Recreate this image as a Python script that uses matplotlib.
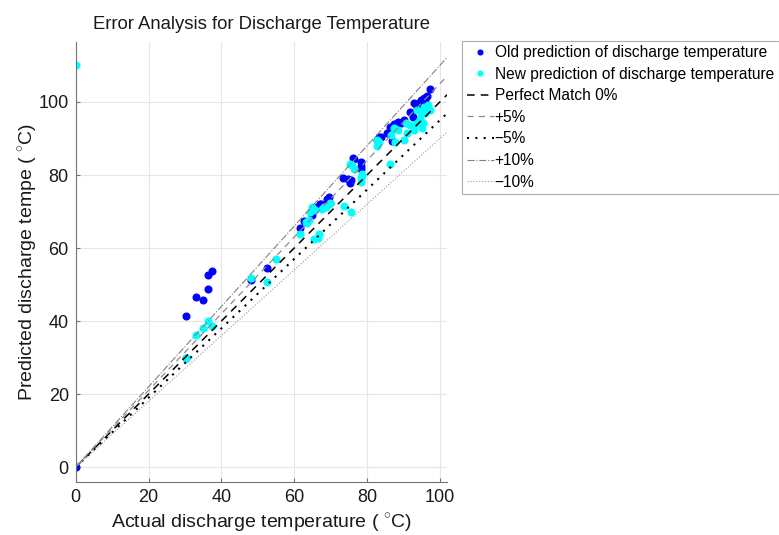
import matplotlib
matplotlib.use("Agg")
import matplotlib.pyplot as plt
import numpy as np

plt.rcParams["font.family"] = ["Liberation Sans", "DejaVu Sans"]
plt.rcParams["mathtext.fontset"] = "custom"
plt.rcParams["mathtext.rm"] = "Liberation Sans"

# old prediction (blue)
old_actual = [0, 30.3, 33.1, 34.9, 36.3, 36.3, 37.5, 30.2, 48.2, 52.5,
              61.5, 62.8, 65.0, 66.3, 67.4, 69.0, 69.6, 67.0, 69.9,
              73.4, 74.9, 75.4, 75.6, 76.2, 76.5, 78.4, 78.4, 78.3,
              82.6, 83.4, 83.7, 85.5, 86.2, 86.9, 87.5, 88.4, 89.4, 90.1,
              91.9, 92.7, 92.8, 93.6, 94.2, 94.9, 95.6, 96.0, 96.5, 97.2]
old_pred = [0, 41.4, 46.7, 45.8, 48.7, 52.7, 53.8, 30.0, 51.3, 54.5,
            65.4, 67.5, 69.0, 71.3, 72.1, 73.4, 73.9, 72.0, 72.2,
            79.1, 79.0, 77.9, 78.6, 84.6, 84.3, 83.5, 82.6, 81.6,
            89.6, 90.5, 90.5, 91.6, 93.2, 89.3, 94.1, 94.6, 94.3, 95.1,
            97.3, 95.8, 99.6, 98.7, 99.8, 100.5, 101.0, 100.4, 101.6, 103.6]

# new prediction (cyan)
new_actual = [0, 30.2, 33.0, 35.0, 36.3, 37.5, 48.2, 52.6, 54.9,
              61.6, 63.3, 63.6, 64.0, 64.4, 64.9, 65.8, 67.6, 68.1, 68.7, 69.7,
              65.3, 66.4, 66.9, 73.6, 75.6,
              75.4, 75.9, 76.5, 78.5, 78.6, 78.4, 78.4,
              82.6, 82.8, 83.4, 86.4, 86.6, 87.3, 87.8, 88.4, 90.1, 90.8, 91.0,
              91.7, 92.8, 93.8, 93.8, 94.2, 94.5, 94.7, 95.1, 95.4, 95.6, 96.0,
              96.7, 97.2]
new_pred = [110, 30.0, 36.2, 38.0, 39.9, 38.6, 51.7, 50.8, 57.0,
            63.8, 67.2, 66.8, 67.7, 70.0, 71.3, 70.4, 70.6, 71.3, 71.3, 72.4,
            62.4, 62.7, 63.8, 71.4, 70.0,
            83.0, 82.8, 81.6, 80.4, 79.8, 79.1, 78.2,
            88.0, 89.5, 89.0, 83.0, 91.0, 92.8, 89.1, 92.3, 89.6, 94.2, 91.4,
            93.7, 92.3, 97.8, 94.2, 94.6, 95.3, 96.9, 92.8, 94.2, 98.7, 96.9,
            99.2, 97.8]

line_x = np.array([0, 102])

fig = plt.figure(figsize=(7.79, 5.35), dpi=100)
ax = fig.add_axes([0.0972, 0.0996, 0.4768, 0.8224])

ax.plot(old_actual, old_pred, "o", color="#0000ff", markersize=4.8, lw=0,
        label="Old prediction of discharge temperature")
ax.plot(new_actual, new_pred, "o", color="#00ffff", markersize=4.8, lw=0,
        label="New prediction of discharge temperature")
ax.plot(line_x, line_x, "--", color="black", lw=1.1, dashes=(5, 4),
        label="Perfect Match 0%")
ax.plot(line_x, 1.05 * line_x, "--", color="0.55", lw=0.9, dashes=(5, 4),
        label="+5%")
ax.plot(line_x, 0.95 * line_x, ":", color="black", lw=1.5, dashes=(1, 3),
        label="\u22125%")
ax.plot(line_x, 1.10 * line_x, "-.", color="0.5", lw=0.8,
        label="+10%")
ax.plot(line_x, 0.90 * line_x, ":", color="0.6", lw=0.8,
        label="\u221210%")

ax.set_xlim(0, 102)
ax.set_ylim(-4, 116.5)
ax.set_xticks([0, 20, 40, 60, 80, 100])
ax.set_yticks([0, 20, 40, 60, 80, 100])
ax.grid(True, color="0.9", lw=0.8)
ax.set_axisbelow(True)
for s in ["top", "right"]:
    ax.spines[s].set_visible(False)
for s in ["left", "bottom"]:
    ax.spines[s].set_color("0.45")
ax.tick_params(direction="in", length=3, color="0.45", labelsize=13,
               labelcolor="0.1", pad=5)

ax.set_title("Error Analysis for Discharge Temperature", fontsize=13.3,
             color="0.1", pad=9)
ax.set_xlabel("Actual discharge temperature ( $^{\\circ}$C)", fontsize=14,
              color="0.1", labelpad=4)
ax.set_ylabel("Predicted discharge tempe ( $^{\\circ}$C)", fontsize=14,
              color="0.1", labelpad=0)

leg = fig.legend(loc="upper left", bbox_to_anchor=(0.593, 0.924),
                 fontsize=11.2, frameon=True, fancybox=False, handlelength=1.75,
                 handletextpad=0.05, labelspacing=0.42, borderpad=0.3,
                 borderaxespad=0, markerscale=0.7)
leg.get_frame().set_edgecolor("0.6")
leg.get_frame().set_linewidth(0.8)

fig.savefig("out.png", dpi=100)
